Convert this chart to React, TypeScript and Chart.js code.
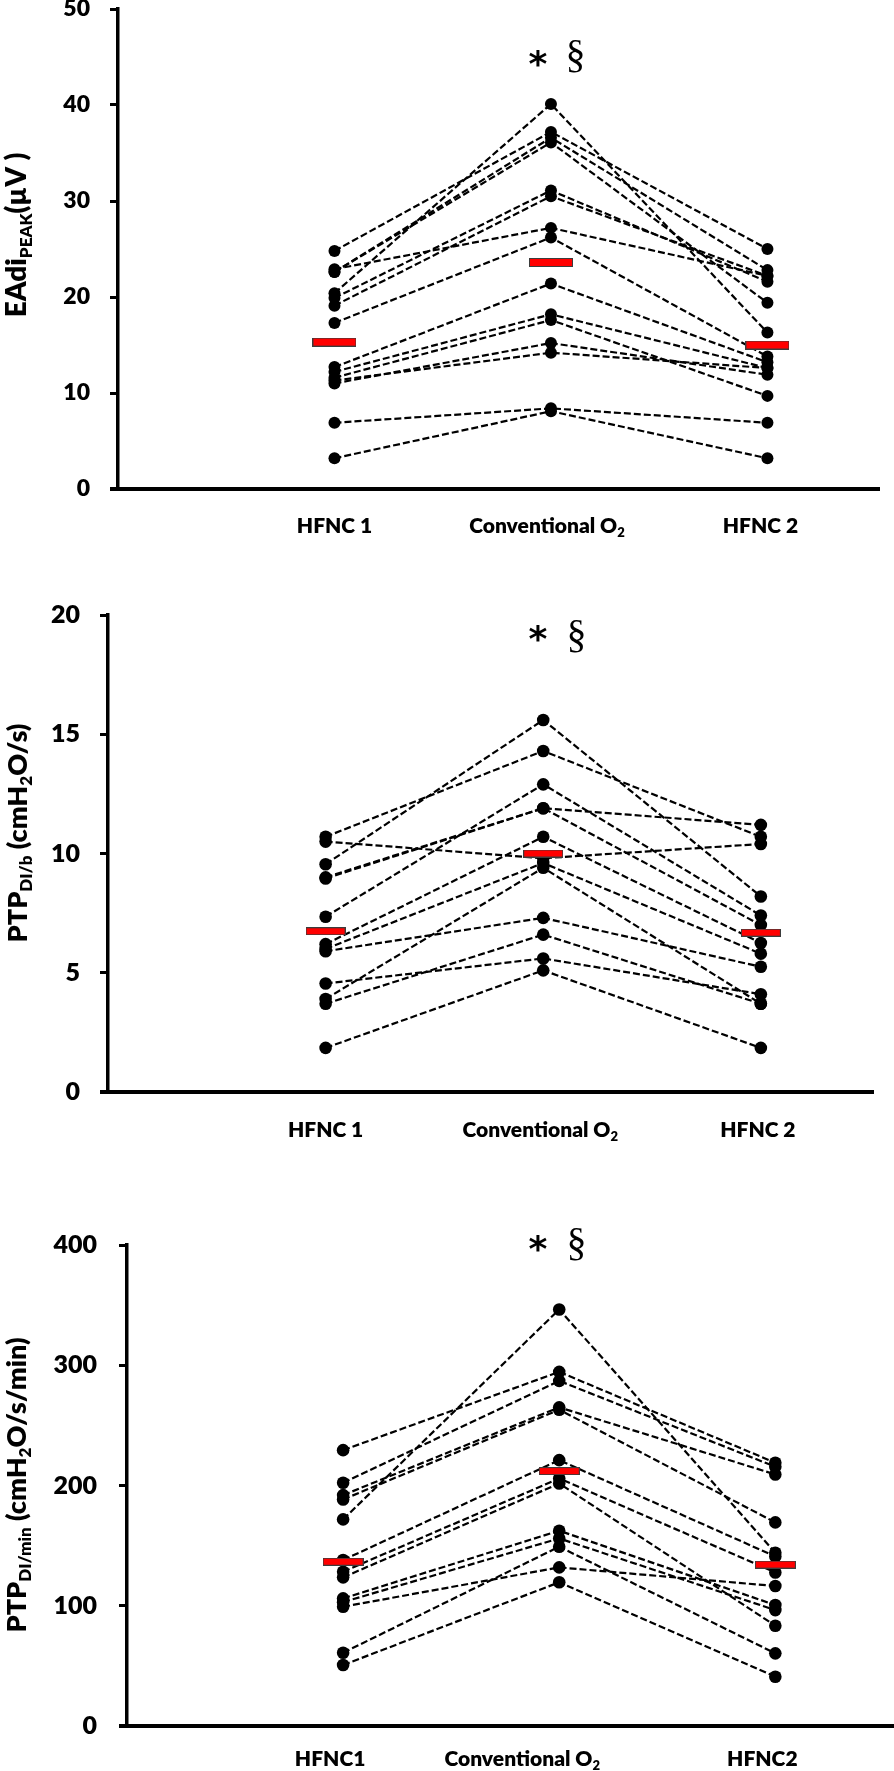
import React, { useEffect, useRef } from "react";
import { Chart, registerables } from "chart.js";

Chart.register(...registerables);

// ---------- DATA ----------
const categoriesTop = ["HFNC 1", "Conventional O_{2}", "HFNC 2"];
const categoriesBottom = ["HFNC1", "Conventional O_{2}", "HFNC2"];
const categoryX = [1, 2, 3];

// Panel 1: EAdi PEAK (µV)
const eadiHFNC1 = [24.8, 22.6, 22.9, 20.4, 19.9, 19.1, 17.3, 22.6, 12.7, 12.2, 11.6, 11.0, 11.3, 6.9, 3.2];
const eadiConv = [37.2, 36.6, 27.2, 40.1, 31.1, 30.5, 26.2, 36.1, 21.4, 18.2, 17.6, 15.2, 14.2, 8.4, 8.1];
const eadiHFNC2 = [25.0, 22.8, 22.2, 16.3, 21.6, 22.2, 13.8, 19.4, 13.2, 12.6, 9.7, 11.9, 12.6, 6.9, 3.2];
const eadiMeans = [15.3, 23.6, 15.0];
const eadiTicks = [0, 10, 20, 30, 40, 50];

// Panel 2: PTP DI/b (cmH2O/s)
const ptpbHFNC1 = [10.7, 10.5, 9.55, 9.0, 8.95, 7.35, 6.2, 6.0, 5.9, 4.55, 3.9, 3.7, 1.85];
const ptpbConv = [14.3, 9.8, 15.6, 11.9, 11.9, 12.9, 10.7, 9.6, 7.3, 5.6, 9.4, 6.6, 5.1];
const ptpbHFNC2 = [10.7, 10.4, 8.2, 11.2, 7.0, 7.4, 6.25, 5.8, 5.25, 4.1, 3.7, 3.7, 1.85];
const ptpbMeans = [6.74, 10.0, 6.68];
const ptpbTicks = [0, 5, 10, 15, 20];

// Panel 3: PTP DI/min (cmH2O/s/min)
const ptpmHFNC1 = [229.4, 202.3, 192.0, 188.4, 171.8, 138.0, 128.3, 123.6, 106.1, 103.0, 99.2, 60.9, 50.7];
const ptpmConv = [294.5, 287.0, 265.0, 263.0, 346.4, 221.1, 205.9, 201.7, 162.4, 156.0, 131.9, 149.1, 119.5];
const ptpmHFNC2 = [218.9, 215.6, 209.2, 169.3, 144.1, 141.0, 127.7, 83.4, 100.6, 96.4, 116.4, 60.4, 41.0];
const ptpmMeans = [136.6, 212.0, 134.2];
const ptpmTicks = [0, 100, 200, 300, 400];

const titleTop = "EAdi_{PEAK}(µV )";
const titleMid = "PTP_{DI/b} (cmH_{2}O/s)";
const titleBottom = "PTP_{DI/min} (cmH_{2}O/s/min)";
const significance = ["*", "§"];

// ---------- STYLE / LAYOUT ----------
const FONT = "Lato, 'Noto Sans', 'DejaVu Sans', sans-serif";
const W = 800;
const SERIF = "'Liberation Serif', 'DejaVu Serif', serif";

type Seg = { text: string; sub: boolean };
function parseRich(s: string): Seg[] {
  const out: Seg[] = [];
  const re = /_\{([^}]*)\}/g;
  let last = 0;
  let m: RegExpExecArray | null;
  while ((m = re.exec(s))) {
    if (m.index > last) out.push({ text: s.slice(last, m.index), sub: false });
    out.push({ text: m[1], sub: true });
    last = m.index + m[0].length;
  }
  if (last < s.length) out.push({ text: s.slice(last), sub: false });
  return out;
}

function drawRich(ctx: CanvasRenderingContext2D, s: string, cx: number, cy: number, size: number) {
  const segs = parseRich(s);
  const subSize = Math.round(size * 0.62);
  ctx.font = `${W} ${size}px ${FONT}`;
  const asc = ctx.measureText("H").actualBoundingBoxAscent;
  const baseline = cy + asc / 2;
  const widths = segs.map((g) => {
    ctx.font = `${W} ${g.sub ? subSize : size}px ${FONT}`;
    return ctx.measureText(g.text).width;
  });
  const total = widths.reduce((a, b) => a + b, 0);
  let x = cx - total / 2;
  ctx.textAlign = "left";
  ctx.textBaseline = "alphabetic";
  segs.forEach((g, i) => {
    ctx.font = `${W} ${g.sub ? subSize : size}px ${FONT}`;
    ctx.fillText(g.text, x, baseline + (g.sub ? size * 0.22 : 0));
    x += widths[i];
  });
}

function drawCentered(ctx: CanvasRenderingContext2D, text: string, font: string, cx: number, cy: number) {
  ctx.font = font;
  ctx.textAlign = "left";
  ctx.textBaseline = "alphabetic";
  const m = ctx.measureText(text);
  const w = m.actualBoundingBoxLeft + m.actualBoundingBoxRight;
  const h = m.actualBoundingBoxAscent + m.actualBoundingBoxDescent;
  const x = cx - w / 2 + m.actualBoundingBoxLeft;
  const y = cy - h / 2 + m.actualBoundingBoxAscent;
  ctx.fillText(text, x, y);
}

type PanelCfg = {
  top: number;
  height: number;
  axisX: number;
  padTop: number;
  padRight: number;
  xAxisHeight: number;
  ticks: number[];
  tickSize: number;
  tickPad: number;
  title: string;
  titleSize: number;
  titleCenter: { x: number; y: number };
  labels: string[];
  labelSize: number;
  labelY: number;
  labelOffsets: number[];
  star: { x: number; y: number };
  sec: { x: number; y: number };
  dotR: number;
  barW: number;
  barH: number;
  xLineEnd: number;
  h1: number[];
  conv: number[];
  h2: number[];
  means: number[];
};

const panels: PanelCfg[] = [
  {
    top: -30, height: 610, axisX: 118, padTop: 39, padRight: 14, xAxisHeight: 91,
    ticks: eadiTicks, tickSize: 23, tickPad: 20,
    title: titleTop, titleSize: 28, titleCenter: { x: 15, y: 235 },
    labels: categoriesTop, labelSize: 21, labelY: 525, labelOffsets: [0, -4, -7],
    star: { x: 538, y: 58 }, sec: { x: 576, y: 56 },
    dotR: 6, barW: 44, barH: 9, xLineEnd: 880,
    h1: eadiHFNC1, conv: eadiConv, h2: eadiHFNC2, means: eadiMeans,
  },
  {
    top: 580, height: 580, axisX: 108, padTop: 33, padRight: 20, xAxisHeight: 68,
    ticks: ptpbTicks, tickSize: 25, tickPad: 20,
    title: titleMid, titleSize: 27, titleCenter: { x: 17, y: 833 },
    labels: categoriesTop, labelSize: 21, labelY: 1129, labelOffsets: [0, -3, -3],
    star: { x: 538, y: 633 }, sec: { x: 577, y: 636 },
    dotR: 6.3, barW: 40, barH: 8, xLineEnd: 874,
    h1: ptpbHFNC1, conv: ptpbConv, h2: ptpbHFNC2, means: ptpbMeans,
  },
  {
    top: 1160, height: 611, axisX: 127, padTop: 85, padRight: 0, xAxisHeight: 45,
    ticks: ptpmTicks, tickSize: 25, tickPad: 22,
    title: titleBottom, titleSize: 27, titleCenter: { x: 16, y: 1485 },
    labels: categoriesBottom, labelSize: 21, labelY: 1758, labelOffsets: [-13, -37, -13],
    star: { x: 538, y: 1243 }, sec: { x: 577, y: 1244 },
    dotR: 6.3, barW: 41, barH: 8, xLineEnd: 894,
    h1: ptpmHFNC1, conv: ptpmConv, h2: ptpmHFNC2, means: ptpmMeans,
  },
];

function makeBar(w: number, h: number): HTMLCanvasElement {
  const c = document.createElement("canvas");
  c.width = w;
  c.height = h;
  const g = c.getContext("2d")!;
  g.fillStyle = "#ff0000";
  g.fillRect(0, 0, w, h);
  g.strokeStyle = "#3c3c3c";
  g.lineWidth = 1;
  g.strokeRect(0.5, 0.5, w - 1, h - 1);
  return c;
}

function Panel({ cfg }: { cfg: PanelCfg }) {
  const ref = useRef<HTMLCanvasElement | null>(null);
  useEffect(() => {
    if (!ref.current) return;
    const subjects = cfg.h1.map((v, i) => ({
      type: "scatter" as const,
      data: [
        { x: categoryX[0], y: v },
        { x: categoryX[1], y: cfg.conv[i] },
        { x: categoryX[2], y: cfg.h2[i] },
      ],
      showLine: true,
      borderColor: "#000",
      borderWidth: 2.2,
      borderDash: [7, 3],
      pointRadius: cfg.dotR,
      pointBackgroundColor: "#000",
      pointBorderWidth: 0,
      pointBorderColor: "#000",
      order: 1,
    }));
    const meanDs = {
      type: "scatter" as const,
      data: cfg.means.map((m, i) => ({ x: categoryX[i], y: m })),
      showLine: false,
      pointStyle: makeBar(cfg.barW, cfg.barH),
      pointRadius: 5,
      order: -1,
    };
    const overlay = {
      id: "overlay",
      beforeDatasetsDraw(chart: any) {
        const ctx = chart.ctx as CanvasRenderingContext2D;
        const a = chart.chartArea;
        ctx.save();
        ctx.strokeStyle = "#000";
        ctx.lineWidth = 4;
        ctx.beginPath();
        ctx.moveTo(a.left - 8, a.bottom);
        ctx.lineTo(cfg.xLineEnd, a.bottom);
        ctx.stroke();
        ctx.restore();
      },
      afterDraw(chart: any) {
        const ctx = chart.ctx as CanvasRenderingContext2D;
        const xs = chart.scales.x;
        ctx.save();
        ctx.fillStyle = "#000";
        cfg.labels.forEach((lab, i) => {
          const px = xs.getPixelForValue(categoryX[i]) + cfg.labelOffsets[i];
          drawRich(ctx, lab, px, cfg.labelY - cfg.top, cfg.labelSize);
        });
        ctx.save();
        ctx.translate(cfg.titleCenter.x, cfg.titleCenter.y - cfg.top);
        ctx.rotate(-Math.PI / 2);
        drawRich(ctx, cfg.title, 0, 0, cfg.titleSize);
        ctx.restore();
        drawCentered(ctx, significance[0], `bold 36px 'DejaVu Sans', sans-serif`, cfg.star.x, cfg.star.y - cfg.top);
        drawCentered(ctx, significance[1], `40px ${SERIF}`, cfg.sec.x, cfg.sec.y - cfg.top);
        ctx.restore();
      },
    };
    const chart = new Chart(ref.current, {
      type: "scatter",
      data: { datasets: [meanDs as any, ...subjects] },
      options: {
        animation: false,
        responsive: true,
        maintainAspectRatio: false,
        events: [],
        layout: { padding: { top: cfg.padTop, right: cfg.padRight, left: 0, bottom: 0 } },
        plugins: { legend: { display: false }, tooltip: { enabled: false }, title: { display: false } },
        scales: {
          x: {
            type: "linear",
            min: 0,
            max: 3.52,
            ticks: { display: false },
            grid: { display: false, drawTicks: false },
            border: { display: false },
            afterFit: (s: any) => {
              s.height = cfg.xAxisHeight;
            },
          },
          y: {
            type: "linear",
            min: cfg.ticks[0],
            max: cfg.ticks[cfg.ticks.length - 1],
            afterBuildTicks: (s: any) => {
              s.ticks = cfg.ticks.map((v) => ({ value: v }));
            },
            ticks: {
              color: "#000",
              font: { family: FONT, size: cfg.tickSize, weight: W },
              padding: cfg.tickPad,
            },
            grid: {
              display: true,
              drawOnChartArea: false,
              drawTicks: true,
              tickLength: 8,
              tickWidth: 3,
              tickColor: "#000",
            },
            border: { display: true, width: 3.5, color: "#000" },
            afterFit: (s: any) => {
              s.width = cfg.axisX;
            },
          },
        },
      } as any,
      plugins: [overlay],
    });
    return () => chart.destroy();
  }, [cfg]);
  return (
    <div style={{ position: "absolute", left: 0, top: cfg.top, width: 894, height: cfg.height }}>
      <canvas ref={ref} />
    </div>
  );
}

export default function App() {
  return (
    <div style={{ position: "absolute", left: 0, top: 0, width: 894, height: 1771, overflow: "hidden", background: "#fff" }}>
      {panels.map((p, i) => (
        <Panel key={i} cfg={p} />
      ))}
    </div>
  );
}
